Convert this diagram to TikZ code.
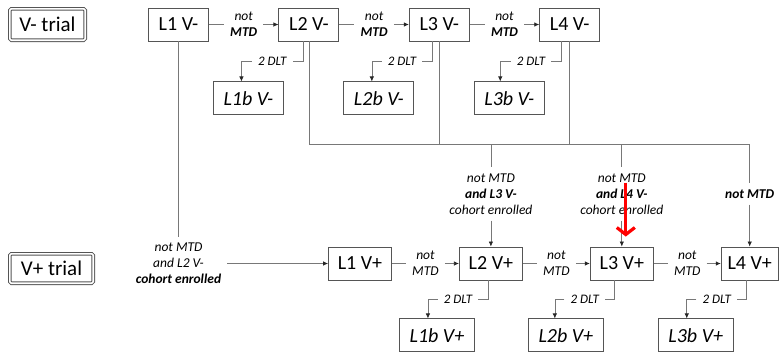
\documentclass[tikz,border=0pt]{standalone}
\usepackage{fontspec}
\setmainfont{Carlito}
\definecolor{linegray}{RGB}{120, 120, 120}
\definecolor{boxgray}{RGB}{85, 85, 85}
\usetikzlibrary{arrows.meta, positioning, calc}
\tikzset{
	trial/.style={rectangle, rounded corners=1.5pt, draw=boxgray, line width=1pt, double=white, double distance=1.6pt, inner sep=0pt, font=\fontsize{21}{24}\selectfont},
	lvl/.style={rectangle, draw=boxgray, line width=0.9pt, minimum width=60pt, minimum height=33pt, inner sep=0pt, font=\fontsize{20}{22}\selectfont},
	lvlb/.style={lvl, minimum width=70pt, font=\fontsize{20}{22}\selectfont\itshape},
	cond/.style={align=center, inner sep=6pt, font=\fontsize{13.5}{16}\selectfont\itshape},
	dlt/.style={inner xsep=6pt, inner ysep=2pt, font=\fontsize{13}{15}\selectfont\itshape},
	conn/.style={draw=linegray, line width=0.7pt},
	arr/.style={conn, -{Latex[length=5pt, width=4.5pt, color=black!85]}},
	redarr/.style={draw=red, line width=3.2pt, -{Straight Barb[length=7pt, width=18pt]}},
}
\begin{document}
\begin{tikzpicture}[x=1pt, y=-1pt, node distance=69.5pt]
	\useasboundingbox (0,0) rectangle (782,354);
	\coordinate (bus) at (0,144);
	\coordinate (mid) at (0,194);
	% trial labels
	\node[trial, minimum width=75.4pt, minimum height=31.4pt] (vm) at (47.5,24.5) {V- trial};
	\node[trial, minimum width=83.4pt, minimum height=29.4pt] (vp) at (51.5,268.5) {V+ trial};
	% V- trial
	\node[lvl] (L1m) at (178.5,24.5) {L1 V-};
	\node[lvl, right=of L1m] (L2m) {L2 V-};
	\node[lvl, right=of L2m] (L3m) {L3 V-};
	\node[lvl, right=of L3m] (L4m) {L4 V-};
	\node[lvlb, below=40pt of L2m.south west, xshift=-30pt] (L1bm) {L1b V-};
	\node[lvlb, below=40pt of L3m.south west, xshift=-30pt] (L2bm) {L2b V-};
	\node[lvlb, below=40pt of L4m.south west, xshift=-30pt] (L3bm) {L3b V-};
	% V+ trial
	\node[lvl, minimum width=63pt] (L1p) at (360,263.5) {L1 V+};
	\node[lvl, minimum width=63pt, right=67pt of L1p] (L2p) {L2 V+};
	\node[lvl, minimum width=63pt, right=67pt of L2p] (L3p) {L3 V+};
	\node[lvl, minimum width=57pt, right=67pt of L3p] (L4p) {L4 V+};
	\node[lvlb, minimum width=75pt, minimum height=33pt, below=38pt of L2p.south west, xshift=-22pt] (L1bp) {L1b V+};
	\node[lvlb, minimum width=75pt, minimum height=33pt, below=38pt of L3p.south west, xshift=-24pt] (L2bp) {L2b V+};
	\node[lvlb, minimum width=75pt, minimum height=33pt, below=38pt of L4p.south west, xshift=-25pt] (L3bp) {L3b V+};
	% escalation, not MTD
	\node[cond] (n1) at ($(L1m.east)!.5!(L2m.west)$) {not\\\textbf{MTD}};
	\node[cond] (n2) at ($(L2m.east)!.5!(L3m.west)$) {not\\\textbf{MTD}};
	\node[cond] (n3) at ($(L3m.east)!.5!(L4m.west)$) {not\\\textbf{MTD}};
	\node[cond] (n4) at ($(L1p.east)!.5!(L2p.west)$) {not\\MTD};
	\node[cond] (n5) at ($(L2p.east)!.5!(L3p.west)$) {not\\MTD};
	\node[cond] (n6) at ($(L3p.east)!.5!(L4p.west)$) {not\\MTD};
	\draw[conn] (L1m) -- (n1);
	\draw[arr] (n1) -- (L2m);
	\draw[conn] (L2m) -- (n2);
	\draw[arr] (n2) -- (L3m);
	\draw[conn] (L3m) -- (n3);
	\draw[arr] (n3) -- (L4m);
	\draw[conn] (L1p) -- (n4);
	\draw[arr] (n4) -- (L2p);
	\draw[conn] (L2p) -- (n5);
	\draw[arr] (n5) -- (L3p);
	\draw[conn] (L3p) -- (n6);
	\draw[arr] (n6) -- (L4p);
	% 2 DLT, step back
	\node[dlt] (d1) at ($([xshift=-6pt]L2m.south)!.5!([xshift=-7pt]L1bm.north)$) {2 DLT};
	\node[dlt] (d2) at ($([xshift=-7pt]L3m.south)!.5!([xshift=-7pt]L2bm.north)$) {2 DLT};
	\node[dlt] (d3) at ($([xshift=-8pt]L4m.south)!.5!([xshift=-9pt]L3bm.north)$) {2 DLT};
	\node[dlt] (d4) at ($([xshift=-3pt]L2p.south)!.5!([xshift=-9pt]L1bp.north)$) {2 DLT};
	\node[dlt] (d5) at ($([xshift=-7pt]L3p.south)!.5!([xshift=-11pt]L2bp.north)$) {2 DLT};
	\node[dlt] (d6) at ($([xshift=-3pt]L4p.south)!.5!([xshift=-9pt]L3bp.north)$) {2 DLT};
	\draw[conn] ([xshift=-6pt]L2m.south) |- (d1);
	\draw[arr] (d1) -| ([xshift=-7pt]L1bm.north);
	\draw[conn] ([xshift=-7pt]L3m.south) |- (d2);
	\draw[arr] (d2) -| ([xshift=-7pt]L2bm.north);
	\draw[conn] ([xshift=-8pt]L4m.south) |- (d3);
	\draw[arr] (d3) -| ([xshift=-9pt]L3bm.north);
	\draw[conn] ([xshift=-3pt]L2p.south) |- (d4);
	\draw[arr] (d4) -| ([xshift=-9pt]L1bp.north);
	\draw[conn] ([xshift=-7pt]L3p.south) |- (d5);
	\draw[arr] (d5) -| ([xshift=-11pt]L2bp.north);
	\draw[conn] ([xshift=-3pt]L4p.south) |- (d6);
	\draw[arr] (d6) -| ([xshift=-9pt]L3bp.north);
	% crossing to V+ trial
	\node[cond] (c1) at (L1m |- L1p) {not MTD\\and L2 V-\\\textbf{cohort enrolled}};
	\node[cond] (c2) at (L2p |- mid) {not MTD\\\textbf{and L3 V-}\\cohort enrolled};
	\node[cond] (c3) at (L3p |- mid) {not MTD\\\textbf{and L4 V-}\\cohort enrolled};
	\node[cond] (c4) at (L4p |- mid) {\textbf{not MTD}};
	\draw[conn] (L1m) -- (c1);
	\draw[arr] (c1) -- (L1p);
	\draw[conn] (L2m.south) |- (L4p |- bus);
	\draw[conn] (L3m.south) -- (L3m |- bus);
	\draw[conn] (L4m.south) -- (L4m |- bus);
	\draw[conn] (L2p |- bus) -- (c2);
	\draw[arr] (c2) -- (L2p);
	\draw[conn] (L3p |- bus) -- (c3);
	\draw[arr] (c3) -- (L3p);
	\draw[conn] (L4p |- bus) -- (c4);
	\draw[arr] (c4) -- (L4p);
	% highlight
	\draw[redarr] ([xshift=4pt, yshift=64pt]L3p.north) -- ([xshift=4pt, yshift=10pt]L3p.north);
\end{tikzpicture}
\end{document}
